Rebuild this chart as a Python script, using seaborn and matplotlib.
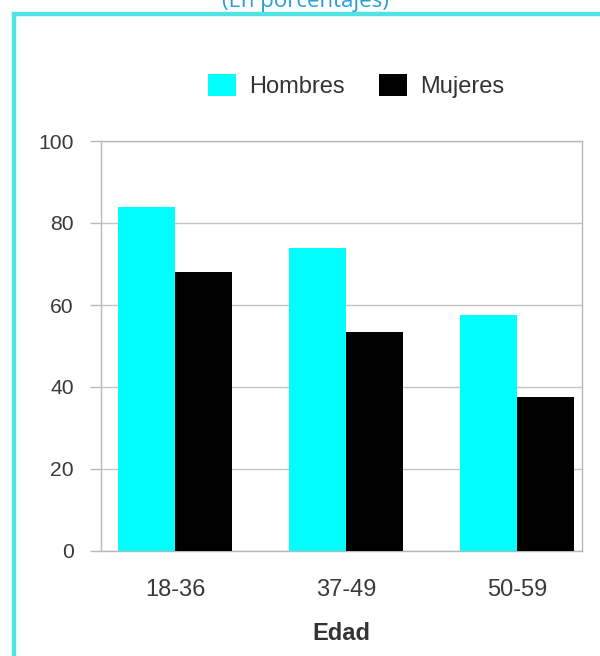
import matplotlib
matplotlib.use("Agg")
import matplotlib.pyplot as plt
from matplotlib.lines import Line2D
import seaborn as sns
import pandas as pd

# ---- data ----
age_groups = ["18-36", "37-49", "50-59"]
sexes = ["Hombres", "Mujeres"]
hombres = [84, 74, 57.5]
mujeres = [68, 53.5, 37.5]
y_ticks = [0, 20, 40, 60, 80, 100]
x_label = "Edad"
subtitle = "(En porcentajes)"

df = pd.DataFrame({
    "Edad": age_groups * 2,
    "Sexo": [sexes[0]] * len(age_groups) + [sexes[1]] * len(age_groups),
    "Valor": hombres + mujeres,
})

sns.set_theme(style="white")
plt.rcParams["font.family"] = ["Liberation Sans", "DejaVu Sans"]

W, H = 600, 656
fig = plt.figure(figsize=(W / 100, H / 100), dpi=100)
fig.patch.set_facecolor("white")

left, right, top, bottom = 101, 582, 141, 551
ax = fig.add_axes([left / W, 1 - bottom / H, (right - left) / W, (bottom - top) / H])

palette = {"Hombres": "#00ffff", "Mujeres": "#000000"}
sns.barplot(data=df, x="Edad", y="Valor", hue="Sexo", order=age_groups,
            hue_order=sexes, palette=palette, width=0.666, saturation=1,
            edgecolor="none", linewidth=0, ax=ax, zorder=3)

ax.set_xlim(-0.432, 2.377)
ax.set_ylim(0, 100)
ax.set_yticks(y_ticks)
ax.yaxis.grid(True, color="#c4c4c4", linewidth=1.0, zorder=0)
ax.xaxis.grid(False)
ax.set_axisbelow(True)

for s in ax.spines.values():
    s.set_visible(True)
    s.set_color("#b8b8b8")
    s.set_linewidth(1.0)

ax.tick_params(axis="y", which="both", left=True, length=8, width=1.0,
               color="#b8b8b8", pad=11.5, labelsize=15.2, labelcolor="#3a3a3a")
ax.tick_params(axis="x", which="both", bottom=False, length=0, pad=20,
               labelsize=17, labelcolor="#3a3a3a")
ax.set_ylabel("")
ax.set_xlabel(x_label, fontsize=17, fontweight="bold", color="#333333", labelpad=15)

# legend
handles, labels = ax.get_legend_handles_labels()
if ax.legend_ is not None:
    ax.legend_.remove()
fig.legend(handles, labels, loc="center left", bbox_to_anchor=(208 / W, 1 - 86 / H),
           ncol=2, frameon=False, fontsize=17, handlelength=1.18, handleheight=1.05,
           handletextpad=0.57, columnspacing=1.45, borderpad=0, borderaxespad=0,
           labelcolor="#333333")

# partially visible subtitle at top (clipped by figure edge, as in the reference)
fig.text(305 / W, 1 - 6.5 / H, subtitle, ha="center", va="baseline",
         fontsize=16, color="#2a9fd6", family=["Open Sans", "DejaVu Sans"])

# cyan border frame
bx, by = 14 / W, 1 - 14 / H
fig.add_artist(Line2D([bx, bx, 1.01], [-0.01, by, by], transform=fig.transFigure,
                      color="#4fe3e3", linewidth=3.2, solid_joinstyle="miter"))

fig.savefig("out.png", dpi=100, facecolor="white")
